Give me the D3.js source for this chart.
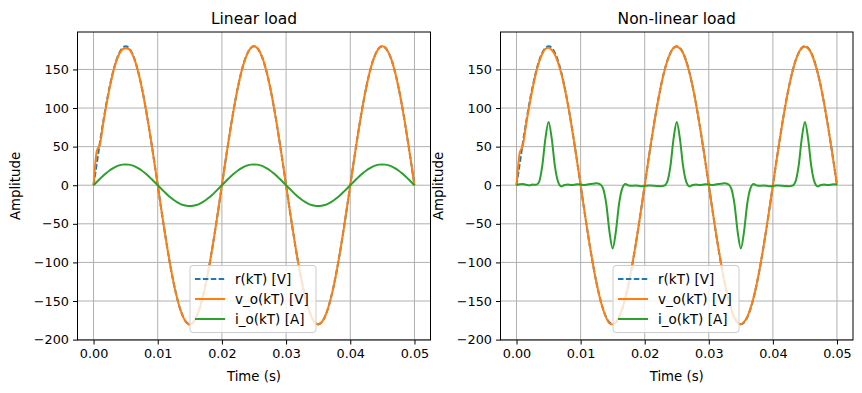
<!DOCTYPE html>
<html><head><meta charset="utf-8">
<script src="https://cdn.jsdelivr.net/npm/d3@7"></script>
<style>body{margin:0;background:#fff} svg{display:block} text{font-family:"DejaVu Sans",sans-serif;fill:#000}</style>
</head><body><svg id="c" width="862" height="393"></svg>
<script>
// sample instants kT in milliseconds (T = 0.5 ms)
const timeMs = [0,0.5,1,1.5,2,2.5,3,3.5,4,4.5,5,5.5,6,6.5,7,7.5,8,8.5,9,9.5,10,10.5,11,11.5,12,12.5,13,13.5,14,14.5,15,15.5,16,16.5,17,17.5,18,18.5,19,19.5,20,20.5,21,21.5,22,22.5,23,23.5,24,24.5,25,25.5,26,26.5,27,27.5,28,28.5,29,29.5,30,30.5,31,31.5,32,32.5,33,33.5,34,34.5,35,35.5,36,36.5,37,37.5,38,38.5,39,39.5,40,40.5,41,41.5,42,42.5,43,43.5,44,44.5,45,45.5,46,46.5,47,47.5,48,48.5,49,49.5,50];

// reference voltage r(kT) [V]
const refV = [0,28.2,55.6,81.7,105.8,127.3,145.6,160.4,171.2,177.8,180,177.8,171.2,160.4,145.6,127.3,105.8,81.7,55.6,28.2,
0,-28.2,-55.6,-81.7,-105.8,-127.3,-145.6,-160.4,-171.2,-177.8,-180,-177.8,-171.2,-160.4,-145.6,-127.3,-105.8,-81.7,-55.6,-28.2,
0,28.2,55.6,81.7,105.8,127.3,145.6,160.4,171.2,177.8,180,177.8,171.2,160.4,145.6,127.3,105.8,81.7,55.6,28.2,
0,-28.2,-55.6,-81.7,-105.8,-127.3,-145.6,-160.4,-171.2,-177.8,-180,-177.8,-171.2,-160.4,-145.6,-127.3,-105.8,-81.7,-55.6,-28.2,
0,28.2,55.6,81.7,105.8,127.3,145.6,160.4,171.2,177.8,180,177.8,171.2,160.4,145.6,127.3,105.8,81.7,55.6,28.2,0];

// output voltage v_o(kT) [V], linear load
const voLinear = [0,44,53,80,104,126,144.5,159.5,170,176,177.5,176.5,170.5,160,145,127,105.5,81.5,55.5,28,
0,-28.3,-55.7,-81.8,-106,-127.5,-145.8,-160.6,-171.5,-178.2,-180.8,-178,-171.3,-160.4,-145.6,-127.3,-105.8,-81.7,-55.6,-28.2,
0,28.2,55.6,81.7,105.8,127.3,145.6,160.4,171.2,177.8,180,177.8,171.2,160.4,145.6,127.3,105.8,81.7,55.6,28.2,
0,-28.2,-55.6,-81.7,-105.8,-127.3,-145.6,-160.4,-171.2,-177.8,-180.3,-177.8,-171.2,-160.4,-145.6,-127.3,-105.8,-81.7,-55.6,-28.2,
0,28.2,55.6,81.7,105.8,127.3,145.6,160.4,171.2,177.8,180,177.8,171.2,160.4,145.6,127.3,105.8,81.7,55.6,28.2,0];

// output current i_o(kT) [A], linear load
const ioLinear = [0,4.2,8.3,12.3,15.9,19.1,21.8,24.1,25.7,26.7,27,26.7,25.7,24.1,21.8,19.1,15.9,12.3,8.3,4.2,
0,-4.2,-8.3,-12.3,-15.9,-19.1,-21.8,-24.1,-25.7,-26.7,-27,-26.7,-25.7,-24.1,-21.8,-19.1,-15.9,-12.3,-8.3,-4.2,
0,4.2,8.3,12.3,15.9,19.1,21.8,24.1,25.7,26.7,27,26.7,25.7,24.1,21.8,19.1,15.9,12.3,8.3,4.2,
0,-4.2,-8.3,-12.3,-15.9,-19.1,-21.8,-24.1,-25.7,-26.7,-27,-26.7,-25.7,-24.1,-21.8,-19.1,-15.9,-12.3,-8.3,-4.2,
0,4.2,8.3,12.3,15.9,19.1,21.8,24.1,25.7,26.7,27,26.7,25.7,24.1,21.8,19.1,15.9,12.3,8.3,4.2,0];

// output voltage v_o(kT) [V], non-linear load
const voNonLinear = [0,42,52,79,103,125,144,159,170,176.5,178,175,169,158,144,126,105,81,55,28,
0,-28.3,-55.7,-81.8,-106,-127.5,-145.8,-160.6,-171.8,-178.8,-180.5,-177,-170,-159.5,-145,-127,-105.5,-81.5,-55.5,-28.2,
0,28.2,55.6,81.7,105.8,127.3,145.6,160.4,171.2,178,179.5,177,171,159.5,145,127,105.5,81.5,55.5,28.2,
0,-28.2,-55.6,-81.7,-105.8,-127.3,-145.6,-160.4,-171.5,-178.5,-180,-177,-170.5,-159.5,-145,-127,-105.5,-81.5,-55.5,-28.2,
0,28.2,55.6,81.7,105.8,127.3,145.6,160.4,171.2,178,179.5,177,171,159.5,145,127,105.5,81.5,55.5,28.2,0];

// output current i_o(kT) [A], non-linear load
const ioNonLinear = [0,1.2,1.5,0.6,-0.3,0.8,0.5,4,24,60,82,60,24,4,-1.5,0.3,0.8,0.3,0.6,1.2,
1.0,0.3,0.8,1.5,2.0,2.5,1.5,-4,-24,-60,-82,-60,-24,-4,1.5,-0.3,-0.8,-0.3,-0.6,-1.2,
-1.0,-0.3,-0.5,-0.8,-1.0,-1.2,-0.8,4,24,60,82,60,24,4,-1.5,0.3,0.8,0.3,0.6,1.2,
1.0,0.3,0.8,1.5,2.0,2.5,1.5,-4,-24,-60,-82,-60,-24,-4,1.5,-0.3,-0.8,-0.3,-0.6,-1.2,
-1.0,-0.3,-0.5,-0.8,-1.0,-1.2,-0.8,4,24,60,82,60,24,4,-1.5,0.3,0.8,0.3,0.6,1.2,1.0];

const yTicks = [-200,-150,-100,-50,0,50,100,150];
const xTicks = [0,0.01,0.02,0.03,0.04,0.05];
const seriesNames = ["r(kT) [V]","v_o(kT) [V]","i_o(kT) [A]"];
const titles = ["Linear load","Non-linear load"];

const colors = ["#1f77b4","#ff7f0e","#2ca02c"];
const svg = d3.select("#c");
const T = timeMs.map(v => v/1000);

const panels = [
  {x0:77.5, x1:430.5, title:titles[0], data:[refV, voLinear, ioLinear], legX:190},
  {x0:500.5, x1:853, title:titles[1], data:[refV, voNonLinear, ioNonLinear], legX:613}
];
const y0 = 32, y1 = 340;

panels.forEach((p, pi) => {
  const x = d3.scaleLinear().domain([-0.0025, 0.0525]).range([p.x0, p.x1]);
  const y = d3.scaleLinear().domain([-200.5, 198.5]).range([y1, y0]);
  const g = svg.append("g");
  const clipId = "clip" + pi;
  svg.append("clipPath").attr("id", clipId).append("rect")
    .attr("x", p.x0).attr("y", y0).attr("width", p.x1 - p.x0).attr("height", y1 - y0);

  // grid
  g.selectAll(".gx").data(xTicks).enter().append("line")
    .attr("x1", d => x(d)).attr("x2", d => x(d)).attr("y1", y0).attr("y2", y1)
    .attr("stroke", "#b0b0b0").attr("stroke-width", 1);
  g.selectAll(".gy").data(yTicks).enter().append("line")
    .attr("y1", d => y(d)).attr("y2", d => y(d)).attr("x1", p.x0).attr("x2", p.x1)
    .attr("stroke", "#b0b0b0").attr("stroke-width", 1);

  // lines
  const lines = g.append("g").attr("clip-path", `url(#${clipId})`);
  p.data.forEach((arr, si) => {
    const line = d3.line().x((d, i) => x(T[i])).y(d => y(d)).curve(d3.curveMonotoneX);
    const path = lines.append("path").attr("d", line(arr)).attr("fill", "none")
      .attr("stroke", colors[si]).attr("stroke-width", 2).attr("stroke-linejoin", "round");
    if (si === 0) path.attr("stroke-dasharray", "5.5,2.4");
  });

  // axes
  const ax = g.append("g").attr("transform", `translate(0,${y1})`)
    .call(d3.axisBottom(x).tickValues(xTicks).tickFormat(d3.format(".2f")).tickSizeOuter(0).tickSize(4.5).tickPadding(4));
  const ay = g.append("g").attr("transform", `translate(${p.x0},0)`)
    .call(d3.axisLeft(y).tickValues(yTicks).tickSizeOuter(0).tickSize(4.5).tickPadding(4));
  [ax, ay].forEach(a => {
    a.select(".domain").remove();
    a.selectAll("text").attr("font-size", 12.8).attr("font-family", "DejaVu Sans").attr("fill", "#000");
    a.selectAll("line").attr("stroke", "#000");
  });
  g.append("rect").attr("x", p.x0).attr("y", y0).attr("width", p.x1 - p.x0).attr("height", y1 - y0)
    .attr("fill", "none").attr("stroke", "#000").attr("stroke-width", 1);

  // labels
  const cx = (p.x0 + p.x1) / 2;
  g.append("text").attr("x", cx).attr("y", 24).attr("text-anchor", "middle")
    .attr("font-size", 15.5).text(p.title);
  g.append("text").attr("x", cx).attr("y", 381).attr("text-anchor", "middle")
    .attr("font-size", 13.3).text("Time (s)");
  g.append("text").attr("transform", `translate(${p.x0 - 58},${(y0 + y1) / 2}) rotate(-90)`)
    .attr("text-anchor", "middle").attr("font-size", 13.3).text("Amplitude");

  // legend
  const lg = g.append("g").attr("transform", `translate(${p.legX},265.5)`);
  lg.append("rect").attr("width", 126).attr("height", 67).attr("rx", 3)
    .attr("fill", "#fff").attr("fill-opacity", 0.8).attr("stroke", "#cccccc").attr("stroke-width", 1);
  seriesNames.forEach((name, i) => {
    const yy = 13.5 + i * 20;
    const l = lg.append("line").attr("x1", 5).attr("x2", 35).attr("y1", yy).attr("y2", yy)
      .attr("stroke", colors[i]).attr("stroke-width", 2);
    if (i === 0) l.attr("stroke-dasharray", "5.5,2.4");
    lg.append("text").attr("x", 45).attr("y", yy).attr("dy", "0.35em")
      .attr("font-size", 13.5).text(name);
  });
});
</script></body></html>
